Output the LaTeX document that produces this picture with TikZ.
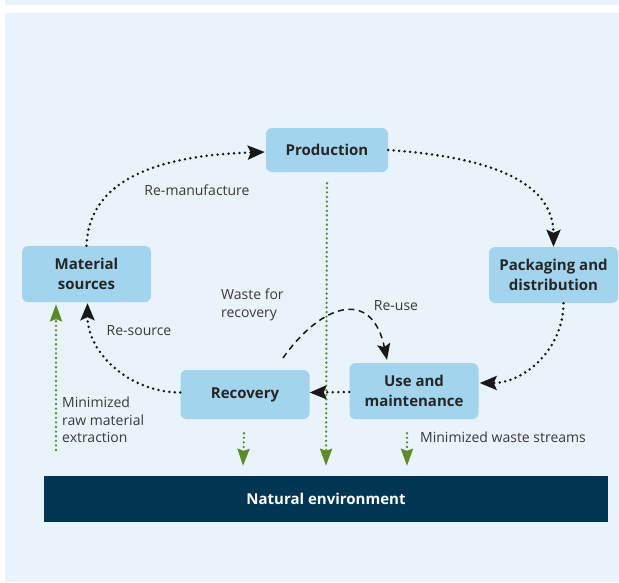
\documentclass[tikz,border=0pt]{standalone}
\usepackage{fontspec}
\setmainfont{Open Sans}
\usetikzlibrary{arrows.meta,positioning,calc}
\definecolor{panelblue}{HTML}{E8F3FA}
\definecolor{boxblue}{HTML}{A3D4EE}
\definecolor{navy}{HTML}{003554}
\definecolor{leafgreen}{HTML}{5B8C2A}
\definecolor{inkgrey}{HTML}{3A3A3A}

\begin{document}
\begin{tikzpicture}[
    x=1pt, y=1pt,
    stage/.style={rounded corners=6pt, fill=boxblue, text=black!85, align=center, font=\bfseries\fontsize{15}{20}\selectfont, minimum width=129pt, minimum height=52pt, inner sep=0pt},
    note/.style={text=inkgrey, align=left, font=\fontsize{14}{17.5}\selectfont, inner sep=0pt},
    loop/.style={-{Stealth[length=17pt,width=14pt,inset=3pt]}, line width=2.8pt, line cap=round, dash pattern=on 0pt off 5.5pt, draw=black!90},
    reuse/.style={-{Stealth[length=16pt,width=13pt,inset=3pt]}, line width=1.5pt, dash pattern=on 6pt off 4.5pt, draw=black!90},
    leak/.style={-{Stealth[length=17pt,width=12pt,inset=2pt]}, line width=2.6pt, line cap=round, dash pattern=on 0pt off 4.6pt, draw=leafgreen}
  ]
    % panel
    \useasboundingbox (0,0) rectangle (619,-582);
    \fill[white] (0,0) rectangle (619,-582);
    \fill[panelblue] (5,0) rectangle (619,-4.5);
    \fill[panelblue] (5,-13) rectangle (619,-582);

    % stages
    \node[stage, minimum width=122pt, minimum height=44pt] (prod) at (327,-150) {Production};
    \node[stage, minimum height=56pt] (ms) at (86.5,-274) {Material\\sources};
    \node[stage, minimum height=56pt] (pack) at (553.5,-275) {Packaging and\\distribution};
    \node[stage, minimum height=49pt] (rec) at (245,-394.5) {Recovery};
    \node[stage, minimum height=56pt] (use) at (414,-391) {Use and\\maintenance};
    \node[fill=navy, text=white, font=\bfseries\fontsize{15}{18}\selectfont, minimum width=564pt, minimum height=46pt, inner sep=0pt] (env) at (326,-499) {Natural environment};

    % labels
    \node[note] (lremanu) at (197,-190) {Re-manufacture};
    \node[note, anchor=west] (lwaste) at (221,-305) {Waste for\\recovery};
    \node[note] (lreuse) at (396,-306) {Re-use};
    \node[note] (lresource) at (139,-331) {Re-source};
    \node[note, anchor=west] (lraw) at (62,-420) {Minimized\\raw material\\extraction};
    \node[note, anchor=west] (lstreams) at (420,-437) {Minimized waste streams};

    % cycle
    \draw[loop] (ms.north) to[out=88, in=182] ($(prod.west)+(-1,-2)$);
    \draw[loop] (prod.east) to[out=-4, in=90] (pack.north);
    \draw[loop] ($(pack.south)+(10,0)$) to[out=-90, in=0] ($(use.east)+(1,8)$);
    \draw[loop] ($(use.west)+(0,-1)$) -- ($(rec.east)+(0,2)$);
    \draw[loop] ($(rec.west)+(0,2)$) to[out=180, in=-90] ($(ms.south)+(1,-1)$);

    % re-use
    \coordinate (wastestart) at (283,-358);
    \draw[reuse] (wastestart) .. controls (322,-303) and (372,-288) .. ($(use.north)+(-27,3)$);

    % leaks to the environment
    \coordinate (rawstart) at (56,-450);
    \draw[leak] (rawstart) -- ($(ms.south)+(-30.5,-2)$);
    \draw[leak] ($(prod.south)+(0,-11)$) -- ($(env.north)+(0,10)$);
    \draw[leak] ($(rec.south)+(-1,-14)$) -- ($(env.north)+(-83,10)$);
    \draw[leak] ($(use.south)+(-7,-14)$) -- ($(env.north)+(81,10)$);
  \end{tikzpicture}
\end{document}
